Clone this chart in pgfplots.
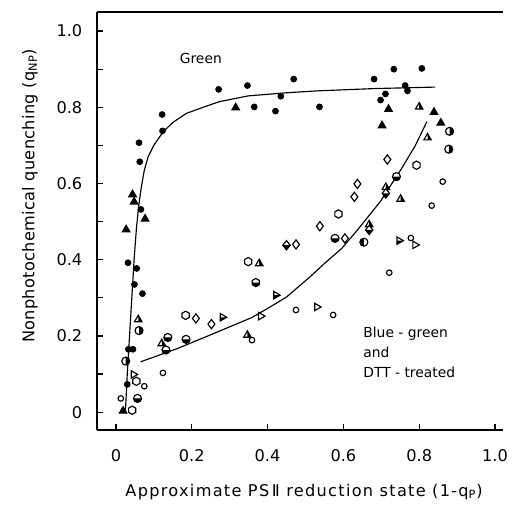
\documentclass[border=0pt]{standalone}
\usepackage{fontspec}
\setmainfont{DejaVu Sans}
\usepackage{pgfplots}
\pgfplotsset{compat=1.18}
\usetikzlibrary{plotmarks}

% custom half-filled marks
\pgfdeclareplotmark{hexa}{%
  \pgfpathmoveto{\pgfqpoint{0pt}{\pgfplotmarksize}}
  \pgfpathlineto{\pgfqpoint{0.866\pgfplotmarksize}{0.5\pgfplotmarksize}}
  \pgfpathlineto{\pgfqpoint{0.866\pgfplotmarksize}{-0.5\pgfplotmarksize}}
  \pgfpathlineto{\pgfqpoint{0pt}{-\pgfplotmarksize}}
  \pgfpathlineto{\pgfqpoint{-0.866\pgfplotmarksize}{-0.5\pgfplotmarksize}}
  \pgfpathlineto{\pgfqpoint{-0.866\pgfplotmarksize}{0.5\pgfplotmarksize}}
  \pgfpathclose
  \pgfusepathqfillstroke}
\pgfdeclareplotmark{halfhexa}{%
  \pgfsetfillcolor{white}
  \pgfpathmoveto{\pgfqpoint{0pt}{\pgfplotmarksize}}
  \pgfpathlineto{\pgfqpoint{0.866\pgfplotmarksize}{0.5\pgfplotmarksize}}
  \pgfpathlineto{\pgfqpoint{0.866\pgfplotmarksize}{-0.5\pgfplotmarksize}}
  \pgfpathlineto{\pgfqpoint{0pt}{-\pgfplotmarksize}}
  \pgfpathlineto{\pgfqpoint{-0.866\pgfplotmarksize}{-0.5\pgfplotmarksize}}
  \pgfpathlineto{\pgfqpoint{-0.866\pgfplotmarksize}{0.5\pgfplotmarksize}}
  \pgfpathclose
  \pgfusepathqfill
  \pgfsetfillcolor{black}
  \pgfpathmoveto{\pgfqpoint{0.866\pgfplotmarksize}{0pt}}
  \pgfpathlineto{\pgfqpoint{0.866\pgfplotmarksize}{-0.5\pgfplotmarksize}}
  \pgfpathlineto{\pgfqpoint{0pt}{-\pgfplotmarksize}}
  \pgfpathlineto{\pgfqpoint{-0.866\pgfplotmarksize}{-0.5\pgfplotmarksize}}
  \pgfpathlineto{\pgfqpoint{-0.866\pgfplotmarksize}{0pt}}
  \pgfpathclose
  \pgfusepathqfill
  \pgfpathmoveto{\pgfqpoint{0pt}{\pgfplotmarksize}}
  \pgfpathlineto{\pgfqpoint{0.866\pgfplotmarksize}{0.5\pgfplotmarksize}}
  \pgfpathlineto{\pgfqpoint{0.866\pgfplotmarksize}{-0.5\pgfplotmarksize}}
  \pgfpathlineto{\pgfqpoint{0pt}{-\pgfplotmarksize}}
  \pgfpathlineto{\pgfqpoint{-0.866\pgfplotmarksize}{-0.5\pgfplotmarksize}}
  \pgfpathlineto{\pgfqpoint{-0.866\pgfplotmarksize}{0.5\pgfplotmarksize}}
  \pgfpathclose
  \pgfusepathqstroke}
\pgfdeclareplotmark{halfcirc}{%
  \pgfsetfillcolor{white}
  \pgfpathcircle{\pgfpointorigin}{\pgfplotmarksize}\pgfusepathqfill
  \pgfsetfillcolor{black}
  \pgfpathmoveto{\pgfqpoint{0pt}{\pgfplotmarksize}}
  \pgfpatharc{90}{-90}{\pgfplotmarksize}
  \pgfpathclose\pgfusepathqfill
  \pgfpathcircle{\pgfpointorigin}{\pgfplotmarksize}\pgfusepathqstroke}
\pgfdeclareplotmark{halftri}{%
  \pgfsetfillcolor{white}
  \pgfpathmoveto{\pgfqpoint{0pt}{\pgfplotmarksize}}
  \pgfpathlineto{\pgfqpoint{-0.866\pgfplotmarksize}{-0.5\pgfplotmarksize}}
  \pgfpathlineto{\pgfqpoint{0.866\pgfplotmarksize}{-0.5\pgfplotmarksize}}
  \pgfpathclose\pgfusepathqfill
  \pgfsetfillcolor{black}
  \pgfpathmoveto{\pgfqpoint{0pt}{\pgfplotmarksize}}
  \pgfpathlineto{\pgfqpoint{0pt}{-0.5\pgfplotmarksize}}
  \pgfpathlineto{\pgfqpoint{0.866\pgfplotmarksize}{-0.5\pgfplotmarksize}}
  \pgfpathclose\pgfusepathqfill
  \pgfpathmoveto{\pgfqpoint{0pt}{\pgfplotmarksize}}
  \pgfpathlineto{\pgfqpoint{-0.866\pgfplotmarksize}{-0.5\pgfplotmarksize}}
  \pgfpathlineto{\pgfqpoint{0.866\pgfplotmarksize}{-0.5\pgfplotmarksize}}
  \pgfpathclose\pgfusepathqstroke}
\pgfdeclareplotmark{halfdiam}{%
  \pgfsetfillcolor{white}
  \pgfpathmoveto{\pgfqpoint{0pt}{\pgfplotmarksize}}
  \pgfpathlineto{\pgfqpoint{0.8\pgfplotmarksize}{0pt}}
  \pgfpathlineto{\pgfqpoint{0pt}{-\pgfplotmarksize}}
  \pgfpathlineto{\pgfqpoint{-0.8\pgfplotmarksize}{0pt}}
  \pgfpathclose\pgfusepathqfill
  \pgfsetfillcolor{black}
  \pgfpathmoveto{\pgfqpoint{0.8\pgfplotmarksize}{0pt}}
  \pgfpathlineto{\pgfqpoint{0pt}{-\pgfplotmarksize}}
  \pgfpathlineto{\pgfqpoint{-0.8\pgfplotmarksize}{0pt}}
  \pgfpathclose\pgfusepathqfill
  \pgfpathmoveto{\pgfqpoint{0pt}{\pgfplotmarksize}}
  \pgfpathlineto{\pgfqpoint{0.8\pgfplotmarksize}{0pt}}
  \pgfpathlineto{\pgfqpoint{0pt}{-\pgfplotmarksize}}
  \pgfpathlineto{\pgfqpoint{-0.8\pgfplotmarksize}{0pt}}
  \pgfpathclose\pgfusepathqstroke}

\begin{document}
\begin{tikzpicture}[font=\fontsize{9}{13}\selectfont]
\begin{axis}[
    scale only axis,
    width=263.9pt, height=271.7pt,
    xmin=-0.05, xmax=1.021, ymin=-0.047, ymax=1.05,
    axis lines=left,
    axis line style={-, line width=0.9pt},
    tick align=inside, tick pos=left,
    xtick={0,0.2,0.4,0.6,0.8,1.0},
    xticklabels={0,0.2,0.4,0.6,0.8,1.0},
    ytick={0,0.2,0.4,0.6,0.8,1.0},
    yticklabels={0,0.2,0.4,0.6,0.8,1.0},
    minor ytick={0.1,0.3,0.5,0.7,0.9},
    major tick length=4pt, minor tick length=4pt,
    every tick/.style={black, line width=0.8pt},
    /pgf/number format/assume math mode=true,
    tick label style={font=\fontsize{10.5}{12}\selectfont},
    xticklabel style={yshift=-9pt},
    yticklabel style={xshift=-6pt},
    xlabel={Approximate PS\,Ⅱ reduction state (1-q\textsubscript{P})},
    ylabel={Nonphotochemical quenching (q\textsubscript{NP})},
    xlabel style={at={([yshift=-40pt]axis description cs:0.51,0)}, anchor=center,
        font=\fontsize{10.5}{12}\selectfont\addfontfeature{LetterSpace=8}},
    ylabel style={at={([xshift=-43.5pt]axis description cs:0,0.56)}, anchor=center,
        font=\fontsize{10.5}{12}\selectfont\addfontfeature{LetterSpace=2}},
    clip=false,
    every axis plot/.append style={line width=0.75pt},
]
% fitted curves
\addplot[black, no marks] coordinates {
    (0.025,0.00) (0.030,0.10) (0.036,0.20) (0.042,0.30) (0.048,0.40)
    (0.054,0.48) (0.060,0.54) (0.067,0.59) (0.075,0.635) (0.085,0.67)
    (0.100,0.70) (0.125,0.736) (0.150,0.760) (0.186,0.784) (0.230,0.800)
    (0.274,0.815) (0.350,0.830) (0.450,0.838) (0.530,0.843) (0.680,0.849)
    (0.842,0.853)
};
\addplot[black, no marks] coordinates {
    (0.065,0.132) (0.160,0.166) (0.250,0.203) (0.358,0.248) (0.400,0.272)
    (0.450,0.302) (0.512,0.355) (0.550,0.390) (0.596,0.430) (0.633,0.473)
    (0.697,0.552) (0.754,0.640) (0.790,0.700) (0.820,0.762)
};
% green: filled circles
\addplot[only marks, mark=*, mark size=1.8pt, black] coordinates {
    (0.061,0.707) (0.063,0.657) (0.122,0.781) (0.123,0.738) (0.271,0.847)
    (0.347,0.857) (0.365,0.801) (0.421,0.790) (0.435,0.829) (0.469,0.874)
    (0.537,0.801) (0.681,0.874) (0.733,0.900) (0.807,0.902) (0.698,0.819)
    (0.711,0.835) (0.763,0.857) (0.769,0.843) (0.066,0.532) (0.032,0.392)
    (0.055,0.377) (0.049,0.335) (0.070,0.311) (0.033,0.165) (0.045,0.165)
    (0.030,0.073)
};
% green: filled triangles
\addplot[only marks, mark=triangle*, mark size=2.8pt, black] coordinates {
    (0.316,0.799) (0.044,0.571) (0.048,0.552) (0.077,0.507) (0.027,0.479)
    (0.719,0.795) (0.702,0.752) (0.839,0.787) (0.857,0.759) (0.019,0.003)
};
% blue-green and DTT-treated
\addplot[only marks, mark=o, mark size=1.8pt, black, mark options={fill=white}] coordinates {
    (0.124,0.103) (0.862,0.605) (0.833,0.542) (0.778,0.457) (0.721,0.366)
    (0.475,0.268) (0.573,0.255) (0.359,0.189) (0.013,0.036) (0.075,0.068)
};
\addplot[only marks, mark=hexa, mark size=2.7pt, black, mark options={fill=white}] coordinates {
    (0.184,0.254) (0.349,0.395) (0.587,0.520) (0.793,0.648) (0.043,0.005)
    (0.054,0.081)
};
\addplot[only marks, mark=diamond, mark size=3pt, black, mark options={fill=white}] coordinates {
    (0.211,0.246) (0.252,0.231) (0.475,0.440) (0.538,0.488) (0.604,0.456)
    (0.629,0.565) (0.637,0.599) (0.716,0.663)
};
\addplot[only marks, mark=halftri, mark size=2.8pt, black] coordinates {
    (0.800,0.801) (0.822,0.720) (0.378,0.390) (0.059,0.243) (0.751,0.559)
    (0.347,0.202) (0.712,0.590) (0.668,0.492) (0.121,0.180)
};
\addplot[only marks, mark=halfdiam, mark size=3pt, black] coordinates {
    (0.450,0.438) (0.668,0.478) (0.712,0.574)
};
\addplot[only marks, mark=halfcirc, mark size=2.6pt, black] coordinates {
    (0.880,0.737) (0.878,0.690) (0.061,0.214) (0.026,0.134)
};
\addplot[only marks, mark=halfcirc, mark size=2.6pt, black, mark options={rotate=180}] coordinates {
    (0.654,0.446)
};
\addplot[only marks, mark=halfcirc, mark size=2.6pt, black, mark options={rotate=-90}] coordinates {
    (0.137,0.196) (0.185,0.191) (0.578,0.456) (0.740,0.618) (0.057,0.036)
    (0.132,0.163)
};
\addplot[only marks, mark=triangle, mark size=2.8pt, black, mark options={rotate=-90, fill=white}] coordinates {
    (0.046,0.099) (0.382,0.252) (0.530,0.276) (0.789,0.439)
};
\addplot[only marks, mark=halftri, mark size=2.8pt, black, mark options={rotate=-90}] coordinates {
    (0.281,0.249) (0.422,0.307) (0.747,0.450)
};
\addplot[only marks, mark=halfhexa, mark size=2.7pt, black] coordinates {
    (0.369,0.340)
};
\draw[line width=0.9pt] (rel axis cs:0,1) -- (rel axis cs:1,1);
\node at (axis cs:0.224,0.929) {Green};
\node[anchor=north west, align=left, inner sep=0pt] at (axis cs:0.652,0.225)
    {Blue - green\\and\\DTT - treated};
\end{axis}
\path ([shift={(-63pt,-50pt)}]current axis.south west)
    rectangle ([shift={(6.5pt,7.8pt)}]current axis.north east);
\end{tikzpicture}
\end{document}
